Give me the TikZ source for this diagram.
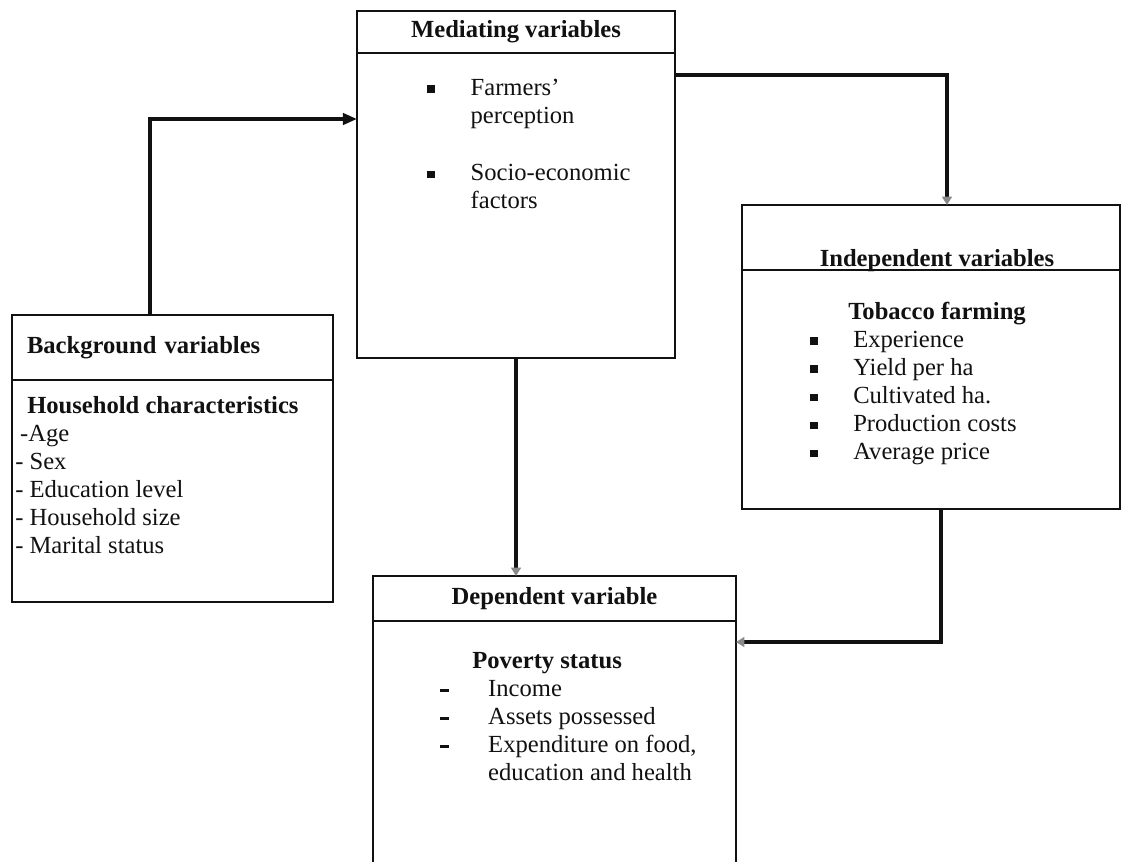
\documentclass[tikz,border=0pt]{standalone}
\usepackage{fontspec}
\setmainfont{Liberation Serif}
\usepackage{tikz}
\usetikzlibrary{arrows.meta,positioning}
\definecolor{ink}{HTML}{111111}
\definecolor{tipgray}{HTML}{8A8A8A}
\newcommand{\boxfont}{\fontsize{17.5}{20}\selectfont}
\newcommand{\sqbul}{\rule[0.1em]{0.3em}{0.3em}}
\newcommand{\itemdash}{\rule[0.18em]{0.34em}{0.12em}}
\tikzset{
  boxpart/.style={
    draw=ink,
    rectangle,
    line width=1.5pt,
    outer sep=0pt,
    inner sep=0pt,
    text=ink
  },
  headbox/.style={boxpart, font=\boxfont\bfseries, align=center},
  bodybox/.style={boxpart},
  headtext/.style={font=\boxfont\bfseries, text=ink, inner sep=0pt},
  listtext/.style={anchor=base west, font=\boxfont, inner sep=0pt, text=ink},
  flowarrow/.style={-{Triangle[length=10pt,width=8pt]}, line width=2.4pt, draw=ink},
  faintarrow/.style={-{Triangle[length=6pt,width=7pt,color=tipgray]}, line width=2.4pt, draw=ink}
}

\begin{document}
\begin{tikzpicture}[font=\boxfont]
  \useasboundingbox (0,0) rectangle (28.075,-21.525);

  \node[headbox, anchor=north west, minimum width=7.95cm, minimum height=1.05cm] (medhead) at (8.925,-0.275) {Mediating variables};
  \node[bodybox, below=0pt of medhead, minimum width=7.95cm, minimum height=7.625cm] (medbody) {};

  \node[headbox, anchor=north west, minimum width=8.025cm, minimum height=1.625cm, align=left, text width=7.275cm] (bghead) at (0.3,-7.875) {Background variables};
  \node[bodybox, below=0pt of bghead, minimum width=8.025cm, minimum height=5.55cm] (bgbody) {};

  \node[headbox, anchor=north west, minimum width=9.45cm, minimum height=1.625cm] (indhead) at (18.55,-5.125) {};
  \node[bodybox, below=0pt of indhead, minimum width=9.45cm, minimum height=5.975cm] (indbody) {};
  \node[headtext, anchor=base] (indtitle) at ([xshift=0.15cm,yshift=0.08cm]indhead.south) {Independent variables};

  \node[headbox, anchor=north west, minimum width=9.075cm, minimum height=1.125cm] (dephead) at (9.325,-14.4) {Dependent variable};
  \node[bodybox, below=0pt of dephead, minimum width=9.075cm, minimum height=6.5cm] (depbody) {};

  \node[listtext] (medlist) at (10.675,-2.375)
    {\begin{tabular}[t]{@{}l@{\hspace{0.9cm}}l@{}}
      \sqbul & Farmers'\\
             & perception\\[21pt]
      \sqbul & Socio-economic\\
             & factors
    \end{tabular}};
  \node[listtext] (bglist) at (0.375,-10.325)
    {\begin{tabular}[t]{@{}l@{}}
      \hspace{0.3cm}\textbf{Household characteristics}\\
      \hspace{0.12cm}-Age\\
      - Sex\\
      - Education level\\
      - Household size\\
      - Marital status
    \end{tabular}};
  \node[listtext] (indlist) at (20.25,-7.975)
    {\begin{tabular}[t]{@{}l@{\hspace{0.89cm}}l@{}}
      \multicolumn{2}{@{\hspace{0.95cm}}l@{}}{\textbf{Tobacco farming}}\\
      \sqbul & Experience\\
      \sqbul & Yield per ha\\
      \sqbul & Cultivated ha.\\
      \sqbul & Production costs\\
      \sqbul & Average price
    \end{tabular}};
  \node[listtext] (deplist) at (11.0,-16.7)
    {\begin{tabular}[t]{@{}l@{\hspace{0.99cm}}l@{}}
      \multicolumn{2}{@{\hspace{0.8cm}}l@{}}{\textbf{Poverty status}}\\
      \itemdash & Income\\
      \itemdash & Assets possessed\\
      \itemdash & Expenditure on food,\\
                & education and health
    \end{tabular}};

  \draw[flowarrow] ([xshift=-0.5625cm]bghead.north) |- ([yshift=2.1625cm]medbody.west);
  \draw[faintarrow] ([yshift=-0.55cm]medbody.north east) -| ([xshift=0.4cm]indhead.north);
  \draw[faintarrow] (medbody.south) -- (medbody.south |- dephead.north);
  \draw[faintarrow] ([xshift=0.25cm]indbody.south) |- ([yshift=-0.525cm]depbody.north east);
\end{tikzpicture}
\end{document}
